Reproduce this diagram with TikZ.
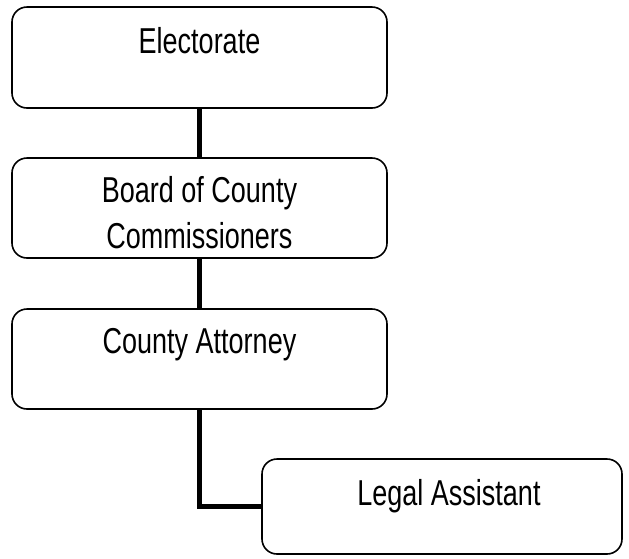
\documentclass[tikz,border=0pt]{standalone}
\usepackage{fontspec}
\setmainfont[FakeStretch=0.75]{Liberation Sans}
\begin{document}
\begin{tikzpicture}[x=1pt,y=-1pt,
  orgbox/.style={draw=black,line width=1.6pt,rounded corners=15pt,fill=white,
    minimum width=375pt,minimum height=101pt,inner sep=0pt,anchor=center},
  label text/.style={font=\fontsize{36}{46}\selectfont,inner sep=0pt,anchor=base,align=center},
  link/.style={line width=4.5pt,draw=black}]
  \useasboundingbox (0,0) rectangle (629,558);

  % boxes
  \node[orgbox] (b1) at (199.5,57.5) {};
  \node[orgbox,minimum height=100pt] (b2) at (199.5,208) {};
  \node[orgbox,minimum height=100pt] (b3) at (199.5,359) {};
  \node[orgbox,minimum width=360pt,minimum height=95pt] (b4) at (442,506.5) {};

  % connectors
  \draw[link] (b1.south) -- (b2.north);
  \draw[link] (b2.south) -- (b3.north);
  \draw[link] (b3.south) |- (b4.west);

  % captions
  \node[label text] (t1) at (199.5,53) {Electorate};
  \node[label text] (t2) at (199.5,248) {Board of County\\Commissioners};
  \node[label text] (t3) at (199.5,353) {County Attorney};
  \node[label text] (t4) at (449,505) {Legal Assistant};
\end{tikzpicture}
\end{document}
